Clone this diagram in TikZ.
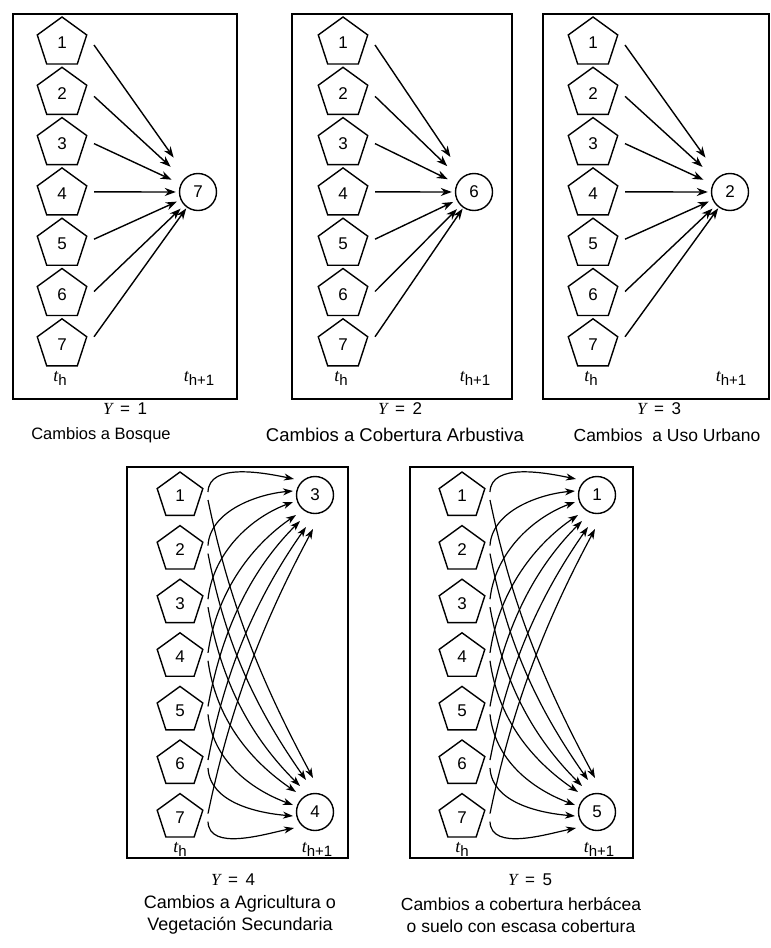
\documentclass[tikz,border=0pt]{standalone}
\usepackage{fontspec}
\setmainfont{Liberation Sans}
\newfontfamily\serifit{Liberation Serif}
\usetikzlibrary{shapes.geometric,arrows.meta,calc}
\newcommand{\tvar}{{\serifit\itshape\fontsize{18}{18}\selectfont t}}
\newcommand{\yvar}{{\serifit\itshape Y}}
\begin{document}
\begin{tikzpicture}[x=1pt,y=-1pt,
  pent/.style={draw, line width=1.4pt, regular polygon, regular polygon sides=5,
    minimum size=52pt, inner sep=0pt, font=\fontsize{17}{17}\selectfont},
  spent/.style={pent, minimum size=48pt},
  res/.style={draw, circle, line width=1.4pt, minimum size=37pt, inner sep=0pt,
    font=\fontsize{17}{17}\selectfont},
  frame/.style={draw, line width=1.5pt},
  arr/.style={line width=1.4pt, -{Stealth[length=11pt,width=8pt,inset=3.5pt]}},
  carr/.style={line width=1.2pt, -{Stealth[length=10pt,width=7pt,inset=3pt]}},
  tlab/.style={font=\fontsize{15}{15}\selectfont, inner sep=0pt},
  ylab/.style={font=\fontsize{17}{17}\selectfont, inner sep=0pt},
  captxt/.style={inner sep=0pt, align=center},
]
\useasboundingbox (0,0) rectangle (771,948);

% ---------- top row ----------
\foreach \bl/\br/\px/\cx/\lab/\n in {13/237/62/198/7/a, 292/512/343/474/6/b, 543/769/593/730/2/c} {
  \draw[frame] (\bl,14) rectangle (\br,399);
  \node[res] (\n-c) at (\cx,192) {\lab};
  \foreach \i/\d/\s in {1/2/23, 2/3/18, 3/0/10, 4/-2/3, 5/-5/4, 6/-3/5, 7/-8/1} {
    \node[pent] (\n\i) at (\px,{43+50.3*(\i-1)}) {\i};
    \draw[arr, shorten >=\s pt] ($(\n\i.center)+(32,\d)$) -- (\n-c);
  }
  \node[tlab] (\n-th) at (\px-2,378) {\tvar\raisebox{-4pt}{h}};
  \node[tlab] (\n-th1) at (\cx+1,378) {\tvar\raisebox{-4pt}{h+1}};
}
\node[ylab] (y1) at (125,409) {\yvar\ \,=\, 1};
\node[ylab] (y2) at (400,409) {\yvar\ \,=\, 2};
\node[ylab] (y3) at (659,409) {\yvar\ \,=\, 3};
\node[captxt, font=\fontsize{16.5}{19}\selectfont] (cap1) at (101,435) {Cambios a Bosque};
\node[captxt, font=\fontsize{18.5}{19}\selectfont] (cap2) at (395,435) {Cambios a Cobertura Arbustiva};
\node[captxt, font=\fontsize{17.5}{19}\selectfont] (cap3) at (667,435) {Cambios\ \ a Uso Urbano};

% ---------- bottom row ----------
\foreach \bl/\br/\px/\cx/\la/\lb/\n in {127/348/180/315/3/4/d, 410/633/462/597/1/5/e} {
  \draw[frame] (\bl,467) rectangle (\br,858);
  \node[res] (\n-A) at (\cx,495) {\la};
  \node[res] (\n-B) at (\cx,812) {\lb};
  \foreach \i in {1,...,7} {
    \node[spent] (\n\i) at (\px,{496+53.6*(\i-1)}) {\i};
  }
  \foreach \i/\tx/\ty/\ax/\ay/\bx/\by in {
      1/-21/-16/1/-30/-29/-6,
      2/-22/-4/2/-35/-35/3,
      3/-22/7/5/-46/-43/16,
      4/-19/20/8/-57/-48/33,
      5/-15/26/13/-72/-52/52,
      6/-9/32/17/-88/-52/74,
      7/-2/34/22/-106/-51/95} {
    \pgfmathtruncatemacro{\j}{8-\i}
    \draw[carr] ($(\n\i.center)+(28,-4)$) .. controls +(\ax,\ay) and +(\bx,\by) .. ($(\n-A)+(\tx,\ty)$);
    \draw[carr] ($(\n\j.center)+(28,4)$) .. controls +(\ax,-\ay) and +(\bx,-\by) .. ($(\n-B)+(\tx,-\ty)$);
  }
  \node[tlab] (\n-th) at (\px,849) {\tvar\raisebox{-4pt}{h}};
  \node[tlab] (\n-th1) at (\cx+2,849) {\tvar\raisebox{-4pt}{h+1}};
}
\node[ylab] (y4) at (233,880) {\yvar\ \,=\, 4};
\node[ylab] (y5) at (530,880) {\yvar\ \,=\, 5};
\node[captxt, font=\fontsize{18}{22.5}\selectfont] (cap4) at (240,915) {Cambios a Agricultura o\\Vegetación Secundaria};
\node[captxt, font=\fontsize{17.5}{22.5}\selectfont] (cap5) at (521,915) {Cambios a cobertura herbácea\\o suelo con escasa cobertura};
\end{tikzpicture}
\end{document}
